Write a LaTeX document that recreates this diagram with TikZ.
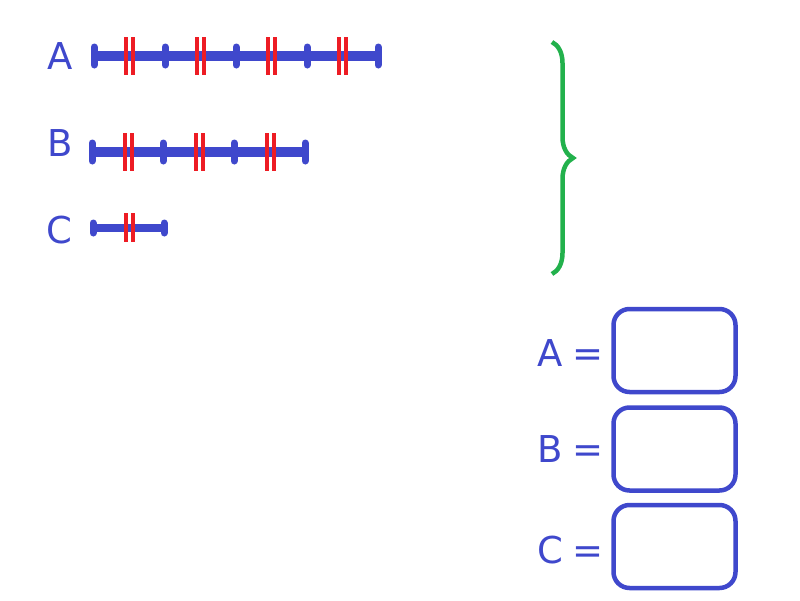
\documentclass[tikz,border=0pt]{standalone}
\usepackage{fontspec}
\setmainfont{DejaVu Sans}
\usepackage{tikz}
\usetikzlibrary{decorations.pathreplacing}
\definecolor{paintblue}{RGB}{63,72,204}
\definecolor{paintred}{RGB}{237,28,36}
\definecolor{paintgreen}{RGB}{34,177,76}
\newcommand{\piece}{71}
\newcommand{\eqgap}{\hspace{10pt}}
\tikzstyle{letter}=[text=paintblue, font=\fontsize{37}{40}\selectfont, inner sep=0, outer sep=0]
\tikzstyle{bar}=[draw=paintblue, line width=10pt]
\tikzstyle{notch}=[draw=paintblue, line width=7pt, line cap=round]
\tikzstyle{hatch}=[draw=paintred, line width=3.5pt]
\tikzstyle{answer}=[draw=paintblue, line width=4.5pt, rounded corners=16pt,
                    minimum width=122pt, minimum height=83pt, inner sep=0]

\begin{document}
\begin{tikzpicture}[x=1pt, y=-1pt]
    \useasboundingbox (0,0) rectangle (800,600);
    % Left column: the three lengths.
    \node[letter] (labA) at (60,56.5) {A};
    \node[letter] (labB) at (60,143) {B};
    \node[letter] (labC) at (59.5,230) {C};
    \coordinate (A0) at (94,56);
    \coordinate (A1) at (378,56);
    \coordinate (B0) at (92,152);
    \coordinate (B1) at (305,152);
    \coordinate (C0) at (93,228);
    \coordinate (C1) at (164,228);
    \draw[bar] (A0) -- (A1);
    \draw[bar] (B0) -- (B1);
    \draw[bar, line width=7.5pt] (C0) -- (C1);
    \foreach \i in {0,...,4}
        \draw[notch] ([shift={(\i*\piece,-9)}]A0) -- +(0,18);
    \foreach \i in {0,...,3}
        \draw[notch] ([shift={(\i*\piece,-9)}]B0) -- +(0,18);
    \foreach \i in {0,1}
        \draw[notch] ([shift={(\i*\piece,-5)}]C0) -- +(0,10);
    \foreach \i in {0,...,3} {
        \draw[hatch] ([shift={(\i*\piece+32,-19)}]A0) -- +(0,38);
        \draw[hatch] ([shift={(\i*\piece+39,-19)}]A0) -- +(0,38);
    }
    \foreach \i in {0,...,2} {
        \draw[hatch] ([shift={(\i*\piece+33,-19)}]B0) -- +(0,38);
        \draw[hatch] ([shift={(\i*\piece+40,-19)}]B0) -- +(0,38);
    }
    \draw[hatch] ([shift={(33,-15)}]C0) -- +(0,29);
    \draw[hatch] ([shift={(40,-15)}]C0) -- +(0,29);
    % Brace.
    \coordinate (braceTop) at (552,42);
    \coordinate (braceBot) at (552,274);
    \draw[paintgreen, line width=4.5pt, decorate,
          decoration={brace, amplitude=21pt}] (braceTop) -- (braceBot);
    % Right column: the boxes to fill in.
    \node[answer] (ansA) at (674.5,350.5) {};
    \node[answer] (ansB) at (674.5,449) {};
    \node[answer] (ansC) at (674.5,546.5) {};
    \node[letter, anchor=east] (eqA) at (604,353) {A\eqgap=};
    \node[letter, anchor=east] (eqB) at (604,449.5) {B\eqgap=};
    \node[letter, anchor=east] (eqC) at (604,550) {C\eqgap=};
\end{tikzpicture}
\end{document}
